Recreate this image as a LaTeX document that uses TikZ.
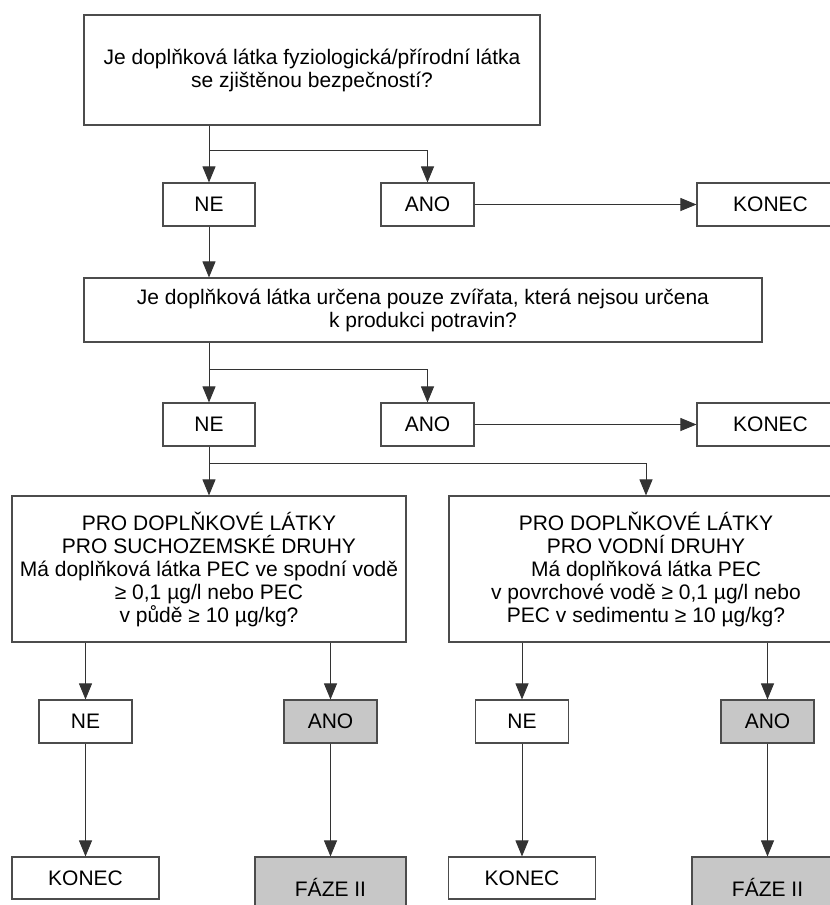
\documentclass[tikz,border=0pt]{standalone}
\usepackage{
	fontspec,			% Fonts
	tikz				% Drawing
}
\usetikzlibrary{arrows.meta}
\setmainfont{Liberation Sans}

\begin{document}
\begin{tikzpicture}[x=1pt,y=-1pt,
		font=\fontsize{21}{23}\selectfont,
		box/.style={draw=black!70,line width=1.1pt,fill=white,align=center,inner sep=0pt},
		greybox/.style={box,fill=black!22},
		arr/.style={draw=black!80,line width=0.9pt,-{Triangle[length=16pt,width=13pt]}}]
		\useasboundingbox (0,0) rectangle (830,905);
		\clip (0,0) rectangle (830,905);
		% first question
		\node[box,minimum width=456pt,minimum height=110pt] (q1) at (312,70)
			{Je doplňková látka fyziologická/přírodní látka\\se zjištěnou bezpečností?};
		\node[box,minimum width=92pt,minimum height=43pt] (ne1) at (209,204.5) {NE};
		\node[box,minimum width=93pt,minimum height=43pt] (ano1) at (427.5,204.5) {ANO};
		\node[box,minimum width=147pt,minimum height=43pt] (konec1) at (770.5,204.5) {KONEC};
		% second question
		\node[box,minimum width=678pt,minimum height=64pt] (q2) at (423,310)
			{Je doplňková látka určena pouze zvířata, která nejsou určena\\k produkci potravin?};
		\node[box,minimum width=92pt,minimum height=43pt] (ne2) at (209,424.5) {NE};
		\node[box,minimum width=93pt,minimum height=43pt] (ano2) at (427.5,424.5) {ANO};
		\node[box,minimum width=147pt,minimum height=43pt] (konec2) at (770.5,424.5) {KONEC};
		% terrestrial / aquatic
		\node[box,minimum width=394pt,minimum height=146pt] (q3a) at (209,569)
			{PRO DOPLŇKOVÉ LÁTKY\\PRO SUCHOZEMSKÉ DRUHY\\Má doplňková látka PEC ve spodní vodě\\≥ 0,1 µg/l nebo PEC\\v půdě ≥ 10 µg/kg?};
		\node[box,minimum width=394pt,minimum height=146pt] (q3b) at (646,569)
			{PRO DOPLŇKOVÉ LÁTKY\\PRO VODNÍ DRUHY\\Má doplňková látka PEC\\v povrchové vodě ≥ 0,1 µg/l nebo\\PEC v sedimentu ≥ 10 µg/kg?};
		\node[box,minimum width=93pt,minimum height=43pt] (ne3a) at (85.5,721.5) {NE};
		\node[greybox,minimum width=93pt,minimum height=43pt] (ano3a) at (330.5,721.5) {ANO};
		\node[box,minimum width=93pt,minimum height=43pt] (ne3b) at (522,721.5) {NE};
		\node[greybox,minimum width=93pt,minimum height=43pt] (ano3b) at (767.5,721.5) {ANO};
		\node[box,minimum width=147pt,minimum height=42pt] (konec3a) at (85.5,878) {KONEC};
		\node[greybox,minimum width=151pt,minimum height=60pt] (faze3a) at (330.5,887) {FÁZE II};
		\node[box,minimum width=147pt,minimum height=42pt] (konec3b) at (522,878) {KONEC};
		\node[greybox,minimum width=151pt,minimum height=60pt] (faze3b) at (767.5,887) {FÁZE II};
		% connectors
		\coordinate (b1) at (209,150);
		\coordinate (b2) at (209,369);
		\coordinate (b3) at (209,463);
		\draw[arr] (q1.south -| ne1) -- (ne1);
		\draw[arr] (b1) -| (ano1);
		\draw[arr] (ano1) -- (konec1);
		\draw[arr] (ne1) -- (ne1 |- q2.north);
		\draw[arr] (q2.south -| ne2) -- (ne2);
		\draw[arr] (b2) -| (ano2);
		\draw[arr] (ano2) -- (konec2);
		\draw[arr] (ne2) -- (q3a);
		\draw[arr] (b3) -| (q3b);
		\foreach \q/\n in {q3a/ne3a, q3a/ano3a, q3b/ne3b, q3b/ano3b}
			\draw[arr] (\q.south -| \n) -- (\n);
		\foreach \n/\e in {ne3a/konec3a, ano3a/faze3a, ne3b/konec3b, ano3b/faze3b}
			\draw[arr] (\n) -- (\n |- \e.north);
	\end{tikzpicture}
\end{document}
